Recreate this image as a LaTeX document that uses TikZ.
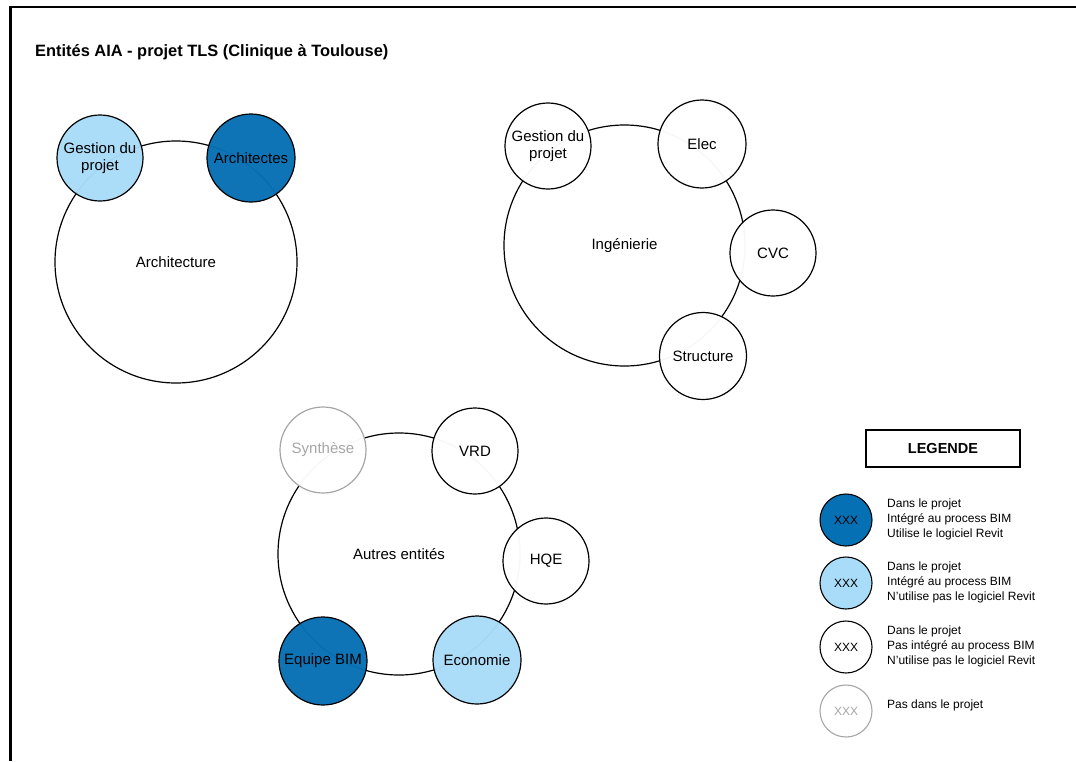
\documentclass[tikz,border=0pt]{standalone}
\usepackage{fontspec}
\setmainfont{Liberation Sans}
\definecolor{bimdark}{HTML}{0670B4}
\definecolor{bimlight}{HTML}{A9DCF8}
\definecolor{outgray}{HTML}{A6A6A6}
\begin{document}
\begin{tikzpicture}[x=1pt,y=-1pt,
  group/.style={circle,draw,line width=1.2pt,inner sep=0pt,minimum size=242pt,
    font=\fontsize{15}{17}\selectfont},
  entity/.style={circle,draw,line width=1.2pt,inner sep=0pt,minimum size=86pt,fill=white,
    fill opacity=0.97,text opacity=1,align=center,font=\fontsize{15}{17}\selectfont},
  revit/.style={entity,fill=bimdark},
  bim/.style={entity,fill=bimlight},
  outside/.style={entity,draw=outgray,text=outgray},
  legcircle/.style={circle,draw,line width=1.1pt,inner sep=0pt,minimum size=52pt,fill=white,
    font=\fontsize{12}{14}\selectfont},
  legtext/.style={anchor=west,align=left,inner sep=0pt,font=\fontsize{12}{15}\selectfont},
]
\useasboundingbox (0,0) rectangle (1076,761);

% page frame
\draw[line width=2.5pt] (10.3,761) -- (10.3,7) -- (1076,7);

% title
\node[anchor=base west,inner sep=0pt,font=\bfseries\fontsize{16.4}{19}\selectfont] (title)
  at (35,56) {Entités AIA - projet TLS (Clinique à Toulouse)};

% Architecture
\node[group] (arch) at (176,262) {Architecture};
\node[bim,minimum size=86pt] (archGP) at (100,158) {Gestion du\\projet};
\node[revit,minimum size=88pt] (archA) at (251,158) {Architectes};

% Ingenierie
\node[group,minimum size=241pt] (ing) at (624.5,245.5) {Ingénierie};
\node[entity,minimum size=86pt] (ingGP) at (548,146) {Gestion du\\projet};
\node[entity,minimum size=88pt] (ingE) at (702,144) {Elec};
\node[entity,minimum size=86pt] (ingC) at (773,253) {CVC};
\node[entity,minimum size=87pt] (ingS) at (703,356) {Structure};

% Autres entites
\node[group] (aut) at (399,554) {Autres entités};
\node[outside] (autS) at (323,450) {Synthèse};
\node[entity] (autV) at (475,451) {VRD};
\node[entity] (autH) at (546,561) {HQE};
\node[revit,minimum size=88pt] (autB) at (323,661) {Equipe BIM};
\node[bim,minimum size=88pt] (autE) at (477,660) {Economie};

% legend
\node[draw,line width=1.3pt,minimum width=154pt,minimum height=37pt,inner sep=0pt,
  font=\bfseries\fontsize{14.5}{17}\selectfont] (legTitle) at (943,448.5) {LEGENDE};

\node[legcircle,fill=bimdark] (leg1) at (846,520) {XXX};
\node[legtext] (leg1t) at (887,519) {Dans le projet\\Intégré au process BIM\\Utilise le logiciel Revit};

\node[legcircle,fill=bimlight] (leg2) at (846,583) {XXX};
\node[legtext] (leg2t) at (887,582) {Dans le projet\\Intégré au process BIM\\N'utilise pas le logiciel Revit};

\node[legcircle] (leg3) at (846,647) {XXX};
\node[legtext] (leg3t) at (887,646) {Dans le projet\\Pas intégré au process BIM\\N'utilise pas le logiciel Revit};

\node[legcircle,draw=outgray,text=outgray] (leg4) at (846,711) {XXX};
\node[legtext] (leg4t) at (887,705) {Pas dans le projet};
\end{tikzpicture}
\end{document}
